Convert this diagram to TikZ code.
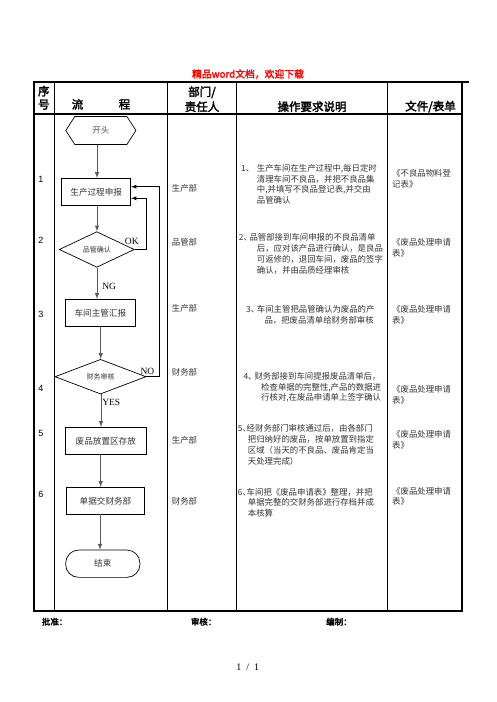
\documentclass[tikz,border=0pt]{standalone}
\usepackage{fontspec}
\setmainfont{Liberation Serif}
\newfontfamily\cjk[AutoFakeBold=2.5]{Noto Sans CJK SC}
\newfontfamily\numfont{Liberation Sans}
\usetikzlibrary{shapes.geometric}

\newcommand{\numlead}[3]{\makebox[#2][l]{\hspace*{#1}#3、}}
\newcommand{\cont}[1]{\hspace*{#1}}

\tikzset{
  box/.style={draw, line width=0.7pt, inner sep=0pt, font=\cjk\fontsize{8.6}{10}\selectfont, text=black!80},
  dia/.style={draw, diamond, aspect=2.5, line width=0.7pt, inner sep=0pt, font=\cjk\fontsize{7}{8}\selectfont, text=black!80},
  flow/.style={draw=black!65, line width=1pt, -latex},
  back/.style={draw, line width=0.8pt, -latex},
  body/.style={inner sep=0pt, align=left, anchor=north west, font=\cjk\fontsize{8.4}{10.8}\selectfont, text=black!80},
  dept/.style={inner sep=0pt, anchor=west, font=\cjk\fontsize{8.4}{10}\selectfont, text=black!80},
  head/.style={inner sep=0pt, align=center, font=\cjk\bfseries\fontsize{11.5}{14}\selectfont},
  lab/.style={inner sep=0pt, font=\fontsize{9.5}{10}\selectfont},
  rownum/.style={inner sep=0pt, font=\numfont\fontsize{9}{10}\selectfont},
  sign/.style={inner sep=0pt, anchor=west, font=\cjk\bfseries\fontsize{8.5}{10}\selectfont},
}

\begin{document}
\begin{tikzpicture}[x=1pt,y=-1pt]
\useasboundingbox (0,0) rectangle (496,702);

% titre
\node[inner sep=0pt, text=red, font=\cjk\bfseries\fontsize{9.8}{11}\selectfont] (title) at (248,74) {精品word文档，欢迎下载};

% cadre du tableau
\draw[line width=2pt] (34,82) rectangle (461.7,610.7);
\draw[line width=2pt] (34,82) -- (469.3,82);
\draw[line width=1.2pt] (34,114) -- (461.7,114);
\foreach \x in {54.3,167.3,236.7,387.7}
{
    \draw[line width=1pt] (\x,82) -- (\x,610.7);
}

% en-tetes
\node[head, font=\cjk\bfseries\fontsize{11.5}{13.3}\selectfont] (hnum) at (43.8,97.7) {序\\号};
\node[head] (hflow1) at (77.5,104.3) {流};
\node[head] (hflow2) at (124.5,104.3) {程};
\node[head, font=\cjk\bfseries\fontsize{11.5}{15}\selectfont] (hdept) at (202,99.2) {部门/\\责任人};
\node[head] (hop) at (312,106.7) {操作要求说明};
\node[head] (hdoc) at (430.5,106.7) {文件/表单};

% numeros
\node[rownum] (n1) at (41,179) {1};
\node[rownum] (n2) at (41,240.7) {2};
\node[rownum] (n3) at (41,314) {3};
\node[rownum] (n4) at (41,388.3) {4};
\node[rownum] (n5) at (41,433.3) {5};
\node[rownum] (n6) at (41,494) {6};

% organigramme
\node[minimum width=69.7pt, minimum height=27.6pt, inner sep=0pt, font=\cjk\fontsize{8.6}{10}\selectfont, text=black!65] (start) at (100.85,130.5) {开头};
\draw[line width=0.7pt]
(start.west)
--
([xshift=9pt]start.north west)
--
([xshift=-9pt]start.north east)
--
(start.east)
--
([xshift=-9pt]start.south east)
--
([xshift=9pt]start.south west)
--
cycle;

\node[box, minimum width=69pt, minimum height=27.4pt] (report) at (96.2,192) {生产过程申报};
\node[dia, minimum width=75pt, minimum height=35.6pt] (qcheck) at (96.8,249.5) {品管确认};
\node[box, minimum width=70.7pt, minimum height=27.2pt] (supervisor) at (100.4,312.9) {车间主管汇报};
\node[dia, minimum width=91pt, minimum height=34.7pt] (fcheck) at (100.5,376.7) {财务审核};
\node[box, minimum width=81.7pt, minimum height=27pt] (store) at (105.8,440.8) {废品放置区存放};
\node[box, minimum width=77.6pt, minimum height=26.7pt] (handover) at (105.5,500.7) {单据交财务部};
\node[box, rounded corners=13pt, minimum width=74.3pt, minimum height=27.3pt] (finish) at (102.8,563.7) {结束};

\coordinate (ax1) at (97,0);
\coordinate (ax2) at (100.7,0);
\coordinate (ax3) at (101,0);
\coordinate (ax4) at (100,0);
\coordinate (okturn) at (146,198.3);
\coordinate (noturn) at (159,186.7);

\draw[flow] (start.south -| ax1) -- (report.north -| ax1);
\draw[flow] (report.south -| ax1) -- (qcheck.north -| ax1);
\draw[flow] (qcheck.south -| ax1) -- (supervisor.north -| ax1);
\draw[flow] (supervisor.south -| ax2) -- (fcheck.north -| ax2);
\draw[flow] (fcheck.south -| ax3) -- (store.north -| ax3);
\draw[flow] (store.south -| ax2) -- (handover.north -| ax2);
\draw[flow] (handover.south -| ax4) -- (finish.north -| ax4);

% retours
\draw[back] (qcheck.east) -| (okturn) -- (report.east |- okturn);
\draw[back] (fcheck.east) -| (noturn) -- (report.east |- noturn);

\node[lab] (ok) at (131.8,241) {OK};
\node[lab] (ng) at (109.2,286) {NG};
\node[lab] (no) at (147.5,371.7) {NO};
\node[lab] (yes) at (111.3,402.7) {YES};

% responsables
\node[dept] (d1) at (171.7,188.3) {生产部};
\node[dept] (d2) at (171.7,242.3) {品管部};
\node[dept] (d3) at (171.7,308.3) {生产部};
\node[dept] (d4) at (171.7,372.7) {财务部};
\node[dept] (d5) at (171.7,440) {生产部};
\node[dept] (d6) at (171.7,501) {财务部};

% consignes
\node[body] (op1) at (237.7,164) {\numlead{3.3pt}{19pt}{1}生产车间在生产过程中,每日定时\\\cont{19pt}清理车间不良品，并把不良品集\\\cont{19pt}中,并填写不良品登记表,并交由\\\cont{19pt}品管确认};
\node[body] (op2) at (237.7,233.3) {\numlead{1pt}{11.6pt}{2}品管部接到车间申报的不良品清单\\\cont{19pt}后，应对该产品进行确认，是良品\\\cont{19pt}可返修的，退回车间，废品的签字\\\cont{19pt}确认，并由品质经理审核};
\node[body] (op3) at (237.7,305) {\numlead{8.3pt}{19pt}{3}车间主管把品管确认为废品的产\\\cont{26.6pt}品，把废品清单给财务部审核};
\node[body] (op4) at (237.7,372) {\numlead{5.6pt}{16.6pt}{4}财务部接到车间提报废品清单后，\\\cont{23.3pt}检查单据的完整性,产品的数据进\\\cont{23.3pt}行核对,在废品申请单上签字确认};
\node[body] (op5) at (237.7,424.3) {\numlead{0pt}{8.8pt}{5}经财务部门审核通过后，由各部门\\\cont{10pt}把归纳好的废品，按单放置到指定\\\cont{10pt}区域（当天的不良品、废品肯定当\\\cont{10pt}天处理完成）};
\node[body] (op6) at (237.7,487.7) {\numlead{0pt}{8.8pt}{6}车间把《废品申请表》整理，并把\\\cont{10pt}单据完整的交财务部进行存档并成\\\cont{10pt}本核算};

% documents
\node[body] (f1) at (392,169.5) {《不良品物料登\\记表》};
\node[body] (f2) at (392,238) {《废品处理申请\\表》};
\node[body] (f3) at (392,305) {《废品处理申请\\表》};
\node[body] (f4) at (392,385.3) {《废品处理申请\\表》};
\node[body] (f5) at (392,430.3) {《废品处理申请\\表》};
\node[body] (f6) at (392,486.7) {《废品处理申请\\表》};

% signatures
\node[sign] (s1) at (41.7,621.7) {批准：};
\node[sign] (s2) at (190.7,621.7) {审核：};
\node[sign] (s3) at (326,621.7) {编制：};

\node[inner sep=0pt, font=\fontsize{10}{11}\selectfont] (page) at (247.8,667) {1\enspace/\enspace1};

\end{tikzpicture}
\end{document}
